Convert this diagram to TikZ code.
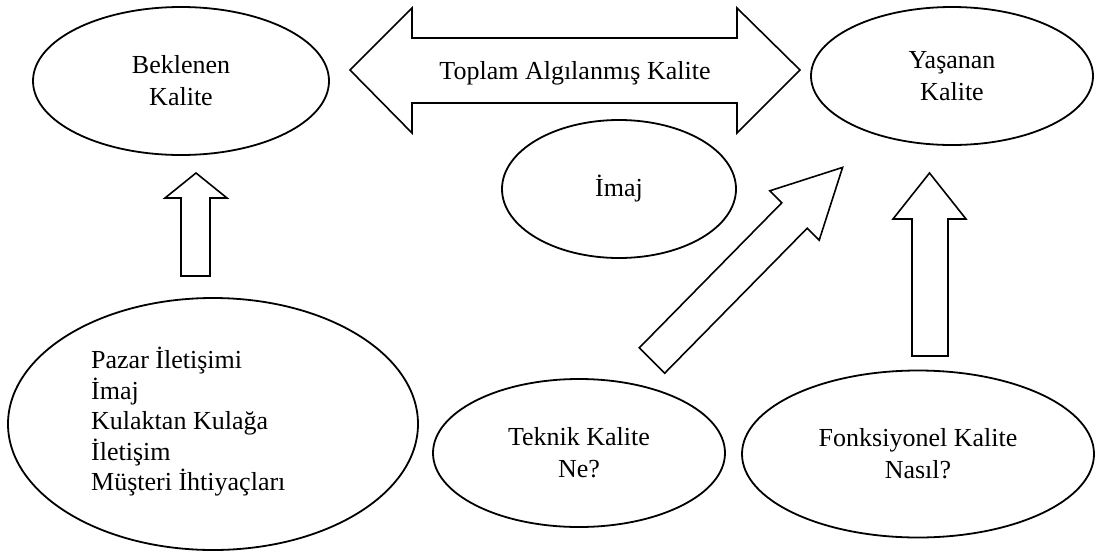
\documentclass[tikz,border=0pt]{standalone}
\usepackage{fontspec}
\setmainfont{Liberation Serif}
\usetikzlibrary{shapes.geometric}
\begin{document}
\begin{tikzpicture}[x=1pt,y=-1pt,
  oval/.style={draw=black, line width=1.8pt, ellipse, inner sep=0pt, align=center,
    font=\fontsize{26}{32}\selectfont},
  blockarrow/.style={draw=black, line width=1.6pt, fill=white, line join=miter},
  lbl/.style={inner sep=0pt, align=left, font=\fontsize{26}{30.5}\selectfont},
  arrowtext/.style={inner sep=0pt, font=\fontsize{26}{32}\selectfont}]
\useasboundingbox (0,0) rectangle (1096,555);

% ellipses
\node[oval, minimum width=296pt, minimum height=148pt] (bek) at (181,81) {Beklenen\\Kalite};
\node[oval, minimum width=282pt, minimum height=138pt] (yas) at (952,76) {Yaşanan\\Kalite};
\node[oval, minimum width=234pt, minimum height=138pt] (imaj) at (619,189) {İmaj};
\node[oval, minimum width=410pt, minimum height=252pt] (big) at (213,424) {};
\node[lbl, anchor=west] (bigtext) at (91,422)
  {Pazar İletişimi\\İmaj\\Kulaktan Kulağa\\İletişim\\Müşteri İhtiyaçları};
\node[oval, minimum width=292pt, minimum height=148pt] (tek) at (579,453) {Teknik Kalite\\Ne?};
\node[oval, minimum width=352pt, minimum height=167pt] (fon) at (918,454) {Fonksiyonel Kalite\\Nasıl?};

% double block arrow between Beklenen and Yaşanan
\coordinate (dl) at (350,70);
\coordinate (dr) at (800,70);
\draw[blockarrow] (dl) -- (412,8) -- (412,38) -- (737,38) -- (737,8) -- (dr)
  -- (737,133) -- (737,103) -- (412,103) -- (412,133) -- cycle;
\node[arrowtext] (toplam) at (575,73) {Toplam Algılanmış Kalite};

% up arrow: big ellipse -> Beklenen
\coordinate (lt) at (196,276);
\coordinate (lh) at (196,173);
\draw[blockarrow] (181,276) -- (181,198) -- (165,198) -- (lh) -- (227,198)
  -- (210,198) -- (210,276) -- cycle;

% up arrow: Fonksiyonel -> Yaşanan
\coordinate (rt) at (930,356);
\coordinate (rh) at (929.5,173);
\draw[blockarrow] (912,356) -- (912,219) -- (893,219) -- (rh) -- (966,219)
  -- (948,219) -- (948,356) -- cycle;

% diagonal arrow: Teknik -> Yaşanan
\coordinate (dt) at (652,360.5);
\coordinate (dh) at (842.6,167.4);
\draw[blockarrow] (639.3,347.8) -- (781.8,202.8) -- (769.8,190.8) -- (dh)
  -- (819.2,240.2) -- (807.2,228.2) -- (664.7,373.2) -- cycle;
\end{tikzpicture}
\end{document}
